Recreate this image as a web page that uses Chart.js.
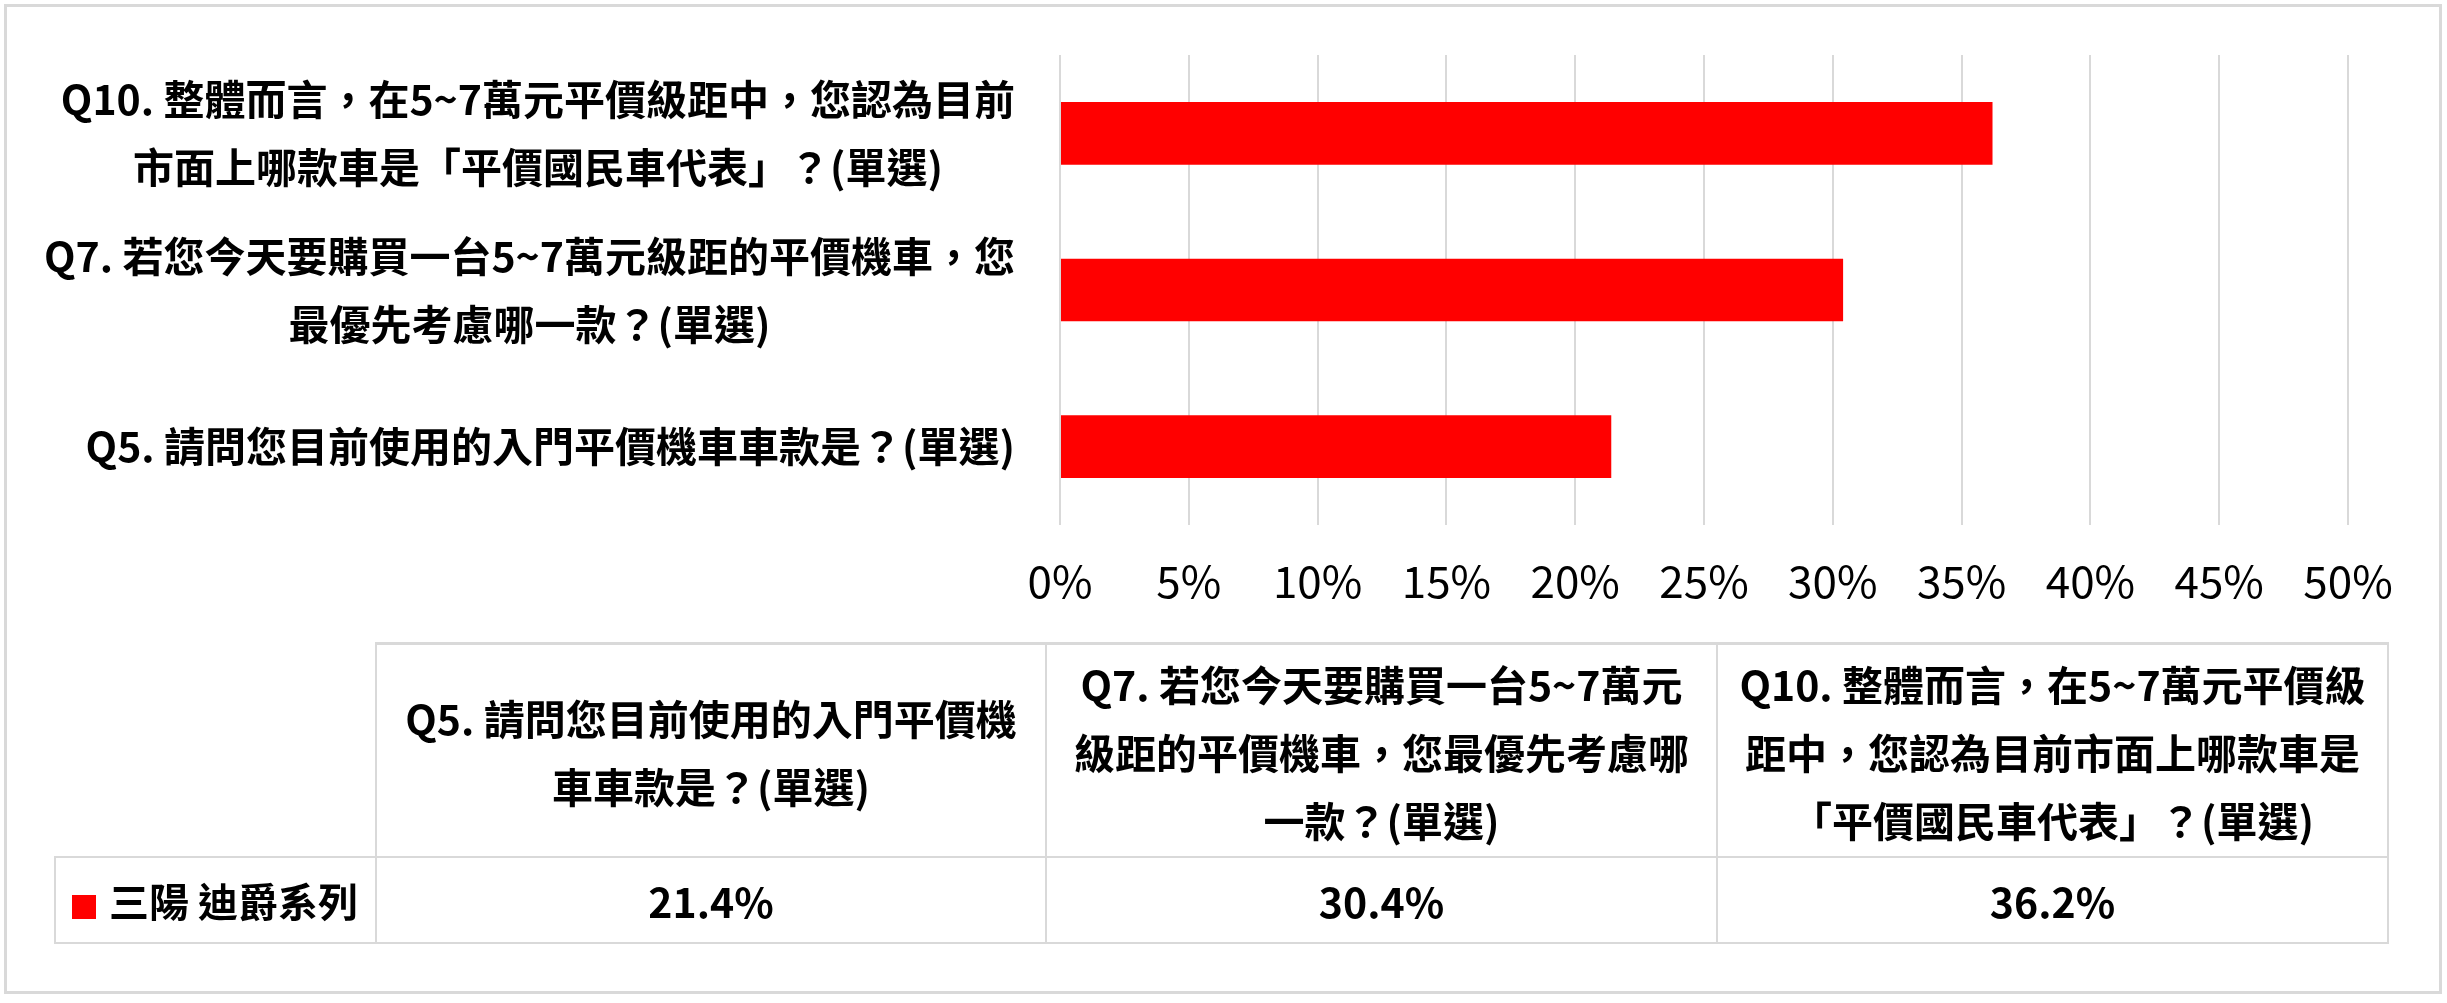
<!DOCTYPE html>
<html><head><meta charset="utf-8">
<script src="https://cdn.jsdelivr.net/npm/chart.js@4"></script>
<style>
html,body{margin:0;padding:0;background:#fff;width:2447px;height:1003px;overflow:hidden;font-family:"Noto Sans CJK TC","Noto Sans",sans-serif;}
#frame{position:absolute;left:4px;top:4px;width:2438px;height:990px;border:3px solid #d9d9d9;box-sizing:border-box;}
#c{position:absolute;left:0;top:0;}
#dt{position:absolute;left:54px;top:642px;border-collapse:collapse;table-layout:fixed;}
#dt td{border:2px solid #d9d9d9;font-weight:700;font-size:41px;color:#000;text-align:center;vertical-align:middle;line-height:68px;padding:0;white-space:nowrap;}
#dt tr.head td{border-top-width:3px;}
#dt td.blank{border-top:none;border-left:none;}
#dt tr.head td{height:211px;}
#dt tr.data td{height:84px;}
#dt td.leg{text-align:left;padding-left:16px;font-size:40px;}
#dt .box{display:inline-block;width:24px;height:24px;background:#ff0000;margin-right:13px;vertical-align:-2px;}
</style></head>
<body>
<div id="frame"></div>
<canvas id="c" width="2447" height="1003"></canvas>
<table id="dt"></table>
<script>
const categories = [
  "Q5. 請問您目前使用的入門平價機車車款是？(單選)",
  "Q7. 若您今天要購買一台5~7萬元級距的平價機車，您最優先考慮哪一款？(單選)",
  "Q10. 整體而言，在5~7萬元平價級距中，您認為目前市面上哪款車是「平價國民車代表」？(單選)"
];
const axisLabelLines = [
  ["Q5. 請問您目前使用的入門平價機車車款是？(單選)"],
  ["Q7. 若您今天要購買一台5~7萬元級距的平價機車，您", "最優先考慮哪一款？(單選)"],
  ["Q10. 整體而言，在5~7萬元平價級距中，您認為目前", "市面上哪款車是「平價國民車代表」？(單選)"]
];
const tableHeaderLines = [
  ["Q5. 請問您目前使用的入門平價機", "車車款是？(單選)"],
  ["Q7. 若您今天要購買一台5~7萬元", "級距的平價機車，您最優先考慮哪", "一款？(單選)"],
  ["Q10. 整體而言，在5~7萬元平價級", "距中，您認為目前市面上哪款車是", "「平價國民車代表」？(單選)"]
];
const seriesName = "三陽 迪爵系列";
const seriesValues = [21.4, 30.4, 36.2];
const tickValues = [0, 5, 10, 15, 20, 25, 30, 35, 40, 45, 50];
const tickLabels = ["0%", "5%", "10%", "15%", "20%", "25%", "30%", "35%", "40%", "45%", "50%"];

const FONT = '"Noto Sans CJK TC","Noto Sans",sans-serif';
const RED = '#ff0000';

const yLabelPlugin = {
  id: 'yLabels',
  afterDraw(chart) {
    const ys = chart.scales.y;
    const ctx = chart.ctx;
    const lineH = 68, pad = 45;
    ctx.save();
    ctx.font = 'bold 41px ' + FONT;
    ctx.fillStyle = '#000';
    ctx.textAlign = 'center';
    ctx.textBaseline = 'middle';
    axisLabelLines.forEach((lines, i) => {
      const yc = ys.getPixelForValue(i);
      const w = Math.max(...lines.map(l => ctx.measureText(l).width));
      const cx = ys.right - pad - w / 2;
      lines.forEach((l, k) => ctx.fillText(l, cx, yc + (k - (lines.length - 1) / 2) * lineH));
    });
    ctx.restore();
  }
};

new Chart(document.getElementById('c'), {
  type: 'bar',
  data: {
    labels: categories,
    datasets: [{
      label: seriesName,
      data: seriesValues,
      backgroundColor: RED,
      borderWidth: 0,
      barPercentage: 0.4,
      categoryPercentage: 1
    }]
  },
  options: {
    indexAxis: 'y',
    responsive: false,
    animation: false,
    devicePixelRatio: 1,
    layout: { padding: { top: 55, right: 99, bottom: 398, left: 0 } },
    plugins: { legend: { display: false }, tooltip: { enabled: false } },
    scales: {
      x: {
        min: 0, max: 50,
        afterBuildTicks(s) { s.ticks = tickValues.map(v => ({ value: v })); },
        afterFit(s) { s.height = 80; },
        ticks: {
          callback: (v, i) => tickLabels[i],
          font: { family: FONT, size: 44, weight: '400' },
          color: '#000', padding: 30, maxRotation: 0, autoSkip: false
        },
        grid: { color: '#d9d9d9', lineWidth: 2, drawTicks: false },
        border: { display: false }
      },
      y: {
        reverse: true,
        afterFit(s) { s.width = 1060; },
        ticks: { display: false },
        grid: { display: false },
        border: { display: false }
      }
    }
  },
  plugins: [yLabelPlugin]
});

// data table
const widths = [321, 670, 671, 671];
const tbl = document.getElementById('dt');
const cg = document.createElement('colgroup');
widths.forEach(w => { const c = document.createElement('col'); c.style.width = w + 'px'; cg.appendChild(c); });
tbl.appendChild(cg);
const hr = document.createElement('tr'); hr.className = 'head';
const blank = document.createElement('td'); blank.className = 'blank'; hr.appendChild(blank);
tableHeaderLines.forEach(lines => {
  const td = document.createElement('td');
  lines.forEach((l, k) => { if (k) td.appendChild(document.createElement('br')); td.appendChild(document.createTextNode(l)); });
  hr.appendChild(td);
});
tbl.appendChild(hr);
const dr = document.createElement('tr'); dr.className = 'data';
const lg = document.createElement('td'); lg.className = 'leg';
const bx = document.createElement('span'); bx.className = 'box'; lg.appendChild(bx);
lg.appendChild(document.createTextNode(seriesName));
dr.appendChild(lg);
seriesValues.forEach(v => { const td = document.createElement('td'); td.textContent = v.toFixed(1) + '%'; dr.appendChild(td); });
tbl.appendChild(dr);
</script>
</body></html>
